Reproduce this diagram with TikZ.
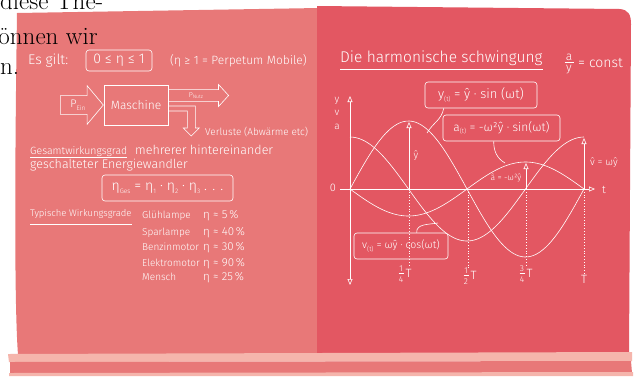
\documentclass[tikz,border=0pt]{standalone}
\usepackage{fontspec}
\newfontfamily\handfont{Fira Sans Light}
\usetikzlibrary{arrows.meta,positioning,shapes.arrows}
\definecolor{boardleft}{HTML}{E87878}
\definecolor{boardright}{HTML}{E35762}
\definecolor{ledge}{HTML}{F5B5AC}
\newcommand{\lowsub}[2][6.5]{\raisebox{-0.45ex}{\fontsize{#1}{#1}\selectfont #2}}
\newcommand{\stackfrac}[2]{\raisebox{-5pt}{\fontsize{8.5}{8.5}\selectfont\shortstack{#1\\[-1.5pt]\rule{5pt}{0.4pt}\\[0pt]#2}}}

\begin{document}
\begin{tikzpicture}[x=1pt, y=-1pt,
  hand/.style={text=white, inner sep=0pt, font=\handfont\fontsize{#1}{#1}\selectfont},
  chalk/.style={draw=white, line width=0.6pt},
  frame/.style={chalk, rounded corners=3pt},
  bigarrow/.style={chalk, single arrow, inner xsep=2pt},
  tip/.style={chalk, -{Triangle[open, length=6pt, width=5pt]}},
  dots/.style={draw=white, line width=0.8pt, dotted},
  curve/.style={chalk, smooth, samples=80},
  page/.style={text=black, inner sep=0pt, anchor=base west, font=\fontsize{25}{30}\selectfont},
]
\useasboundingbox (0,0) rectangle (638,376);
\fill[white] (0,0) rectangle (638,376);

\fill[boardleft] (17,13) -- (319,8) -- (319,355) -- (18,355)
  .. controls (14,300) and (15,150) .. cycle;
\fill[boardright] (317,6) -- (620,9) .. controls (628,10) and (631,14) .. (631,24)
  -- (629,354) -- (317,355) -- cycle;
\fill[ledge] (8,354) -- (632,352) -- (632,361) -- (9,362) -- cycle;
\fill[boardleft] (10,362) -- (631,361) -- (632,373) -- (10,373) -- cycle;
\fill[ledge] (9,373) -- (633,372) -- (633,376) -- (9,376) -- cycle;

\node[page] (pageA) at (0,9) {diese The-};
\node[page] (pageB) at (-13.2,44) {können wir};
\node[page] (pageC) at (0,74) {n.};

\node[hand=14, anchor=base west] (esgilt) at (28,64) {Es gilt:};
\node[frame, hand=14, minimum width=66pt, minimum height=21pt] (range) at (119,60.5) {0 ≤ η ≤ 1};
\node[hand=12, anchor=base west] (perpetuum) at (170,64) {(η ≥ 1 = Perpetum Mobile)};

\node[chalk, hand=12, minimum width=64pt, minimum height=40pt] (machine) at (136,105) {Maschine};
\node[bigarrow, hand=11, anchor=tip, inner ysep=4pt, minimum height=43pt, minimum width=38pt,
  single arrow head extend=10pt, single arrow tip angle=100] (pin) at (machine.west) {P\lowsub{Ein}};
\node[bigarrow, hand=7, anchor=tail, inner ysep=2.3pt, minimum height=60pt, minimum width=22pt,
  single arrow head extend=5pt, single arrow tip angle=95] (pout) at ([yshift=9.5pt]machine.east) {P\lowsub[5]{Nutz}};
\coordinate (lossA) at ([yshift=-1pt]machine.east);
\coordinate (lossB) at ([yshift=-6pt]machine.east);
\draw[chalk] (lossA) -- ++(27,0) -- ++(0,22) -- ++(4,0) -- ++(-8,8) -- ++(-8,-8) -- ++(4,0) -- ++(0,-17) -- (lossB);
\node[hand=10, anchor=base west] (losses) at (205,135) {Verluste (Abwärme etc)};

\node[hand=10.5, anchor=base west] (gesamt) at (30,154) {Gesamtwirkungsgrad};
\draw[chalk] ([yshift=-3pt]gesamt.base west) -- ([yshift=-3pt]gesamt.base east);
\node[hand=12.5, anchor=base west] (mehrerer) at (135,154) {mehrerer hintereinander};
\node[hand=12.5, anchor=base west] (geschaltet) at (30,168) {geschalteter Energiewandler};
\node[frame, hand=14, minimum width=131pt, minimum height=26pt] (etaGes) at (167.5,188)
  {η\lowsub{Ges} = η\lowsub{1} · η\lowsub{2} · η\lowsub{3} . . .};

\node[hand=9.5, anchor=base west] (typisch) at (30,216) {Typische Wirkungsgrade};
\draw[chalk] ([yshift=-8pt]typisch.base west) -- ([yshift=-8pt]typisch.base east);
\foreach \wname/\wval/\wy [count=\i] in {Glühlampe/5/218, Sparlampe/40/235, Benzinmotor/30/250,
    Elektromotor/90/266, Mensch/25/280} {
  \node[hand=10, anchor=base west] (kind\i) at (142,\wy) {\wname};
  \node[hand=11.5, anchor=base west] (rate\i) at (203,\wy) {η ≈ \wval\,\%};
}

\node[hand=15.5, anchor=base west] (title) at (340,62) {Die harmonische schwingung};
\draw[chalk] ([yshift=-7pt]title.base west) -- ([yshift=-7pt]title.base east);
\node[hand=12] (ratio) at (569,64) {\shortstack{a\\[-1pt]\rule{9pt}{0.5pt}\\y}};
\node[hand=14, anchor=base west] (const) at (578,67) {= const};

\coordinate (axbot) at (350,285);
\coordinate (axtop) at (350,96);
\coordinate (axleft) at (340,189);
\coordinate (axright) at (595,189);
\draw[chalk, {Triangle[open, length=6pt, width=5pt]}-{Triangle[open, length=6pt, width=5pt]}] (axbot) -- (axtop);
\draw[tip] (axleft) -- (axright);
\node[hand=10] (ylab) at (337,101) {y};
\node[hand=10] (vlab) at (337,113) {v};
\node[hand=10] (alab) at (337,127) {a};
\node[hand=11] (zero) at (333,188) {0};
\node[hand=11] (tlab) at (604,190) {t};

\draw[curve] plot[domain=350:584] (\x, {189-68*sin(((\x-350)/234)*360)});
\draw[curve] plot[domain=350:584] (\x, {189-52*cos(((\x-350)/234)*360)});
\draw[curve] plot[domain=350:584] (\x, {189+27*sin(((\x-350)/234)*360)});

\node[hand=12] (quarter) at (405,274) {\stackfrac{1}{4}\,T};
\node[hand=12] (half) at (470,276) {\stackfrac{1}{2}\,T};
\node[hand=12] (threeq) at (526,274) {\stackfrac{3}{4}\,T};
\node[hand=12] (period) at (584,279) {T};

\coordinate (qfoot) at (409,189);
\coordinate (halffoot) at (468,189);
\coordinate (hfoot) at (526,189);
\coordinate (tfoot) at (584,189);
\coordinate (ypeak) at (409,122);
\coordinate (apeak) at (526,163);
\coordinate (vpeak) at (584,138);
\draw[tip] (qfoot) -- (ypeak);
\draw[tip] (hfoot) -- (apeak);
\draw[tip] (tfoot) -- (vpeak);
\draw[dots] (qfoot) -- (qfoot |- quarter.north);
\draw[dots] (halffoot) -- (halffoot |- half.north);
\draw[dots] (hfoot) -- (hfoot |- threeq.north);
\draw[dots] (tfoot) -- (tfoot |- period.north);

\node[hand=10] (yhat) at (416,156) {ŷ};
\node[hand=10] (vhat) at (604,163) {v̂ = ωŷ};
\node[hand=8.5] (ahat) at (506,178) {â = -ω²ŷ};

\node[frame, hand=13, minimum width=112pt, minimum height=26pt] (ybox) at (481,95)
  {y\lowsub{(t)} = ŷ · sin (ωt)};
\node[frame, hand=12, minimum width=117pt, minimum height=26pt] (abox) at (501.5,128)
  {a\lowsub{(t)} = -ω²ŷ · sin(ωt)};
\node[frame, hand=10.5, minimum width=94pt, minimum height=26pt] (vbox) at (401,246)
  {v\lowsub{(t)} = ωŷ · cos(ωt)};
\coordinate (yspot) at (427,133);
\coordinate (aspot) at (505,163);
\coordinate (vspot) at (438,223);
\draw[chalk] ([xshift=19pt]ybox.south west) to[out=-100, in=60] (yspot);
\draw[chalk] ([xshift=51pt]abox.south west) to[out=-90, in=150] (aspot);
\draw[chalk] ([xshift=63pt]vbox.north west) to[out=95, in=190] (vspot);
\end{tikzpicture}
\end{document}
